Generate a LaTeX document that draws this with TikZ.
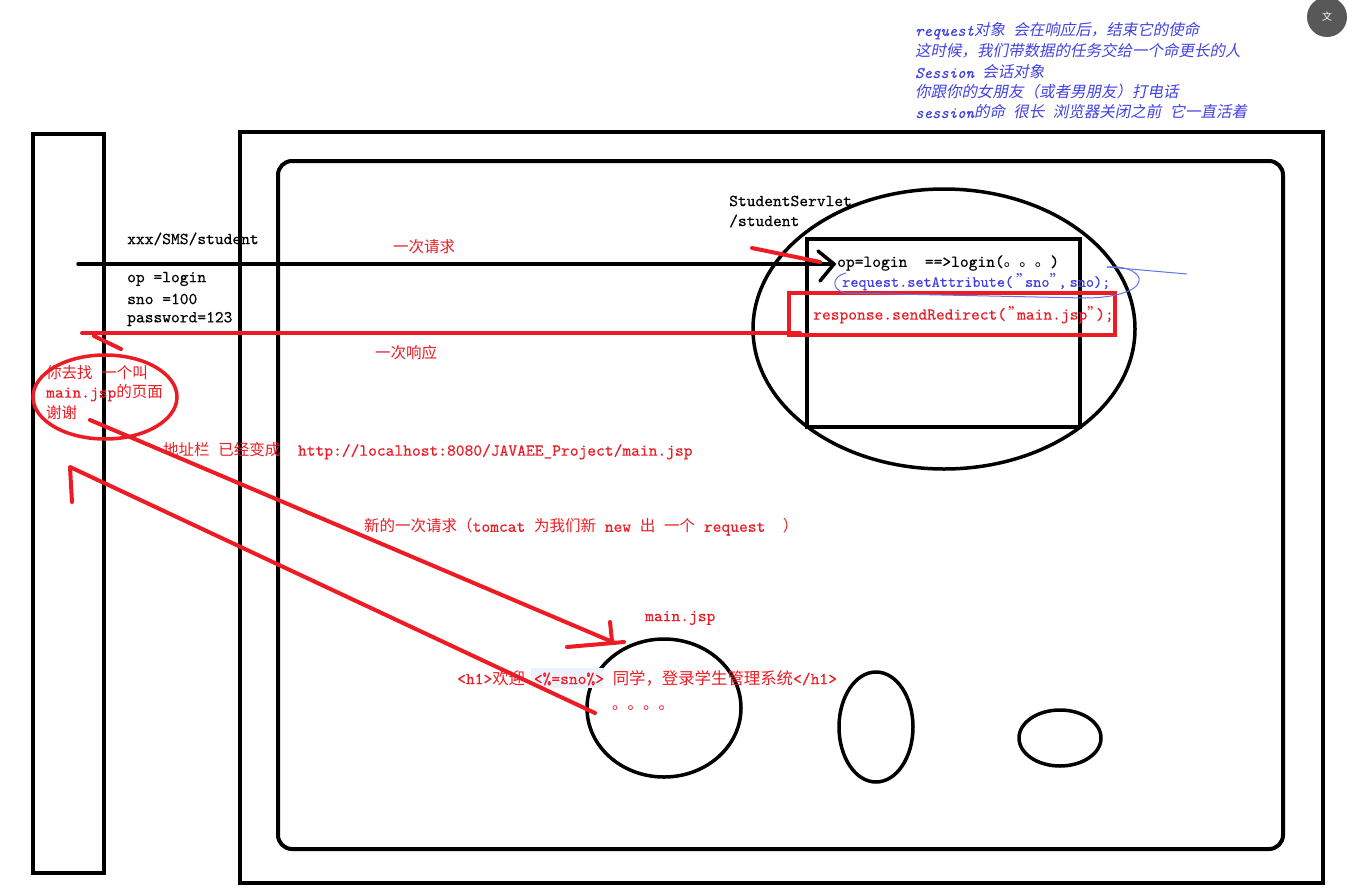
\documentclass[tikz,border=0pt]{standalone}
\usepackage{fontspec}
\setmonofont[FakeBold=0.4, ItalicFont=lmmono10-italic.otf, ItalicFeatures={FakeBold=0.4}]{lmmono10-regular.otf}
\newfontfamily\cjkfont{Noto Sans CJK SC}
\newfontfamily\cjkitfont[FakeSlant=0.2]{Noto Sans CJK SC}
\definecolor{pred}{RGB}{237,28,36}
\definecolor{pblue}{RGB}{66,66,226}
\definecolor{lblue}{RGB}{96,116,232}
\definecolor{hlblue}{RGB}{236,242,251}
\definecolor{icongray}{RGB}{88,88,88}
\newcommand\zhs[1]{{\fontsize{15.5}{19}\selectfont\cjkfont #1}}
\newcommand\zhb[1]{{\fontsize{16.4}{19}\selectfont\cjkfont #1}}
\newcommand\zhi[1]{{\fontsize{15.5}{19}\selectfont\cjkitfont #1}}
\newcommand\cq{\makebox[9pt][l]{\zhs{”}}}
\tikzset{
  txt/.style={anchor=west, inner sep=0pt, font=\fontsize{16.7}{19}\selectfont\ttfamily},
  blk/.style={txt, text=black},
  rtxt/.style={txt, text=pred},
  btxt/.style={txt, text=pblue, font=\fontsize{16}{19}\selectfont\ttfamily\itshape},
  bup/.style={txt, text=pblue, font=\fontsize{15.5}{19}\selectfont\ttfamily},
  frame/.style={draw=black, line width=4pt},
  redline/.style={draw=pred, line width=4pt, line cap=round, line join=round},
  blkline/.style={draw=black, line width=3.5pt, line cap=round, line join=round},
}
\begin{document}
\begin{tikzpicture}[x=1pt,y=-1pt]
\useasboundingbox (0,0) rectangle (1347,892);
\fill[white] (0,0) rectangle (1347,892);

% frames
\draw[frame] (33,134) rectangle (104,873);
\draw[frame] (240,132) rectangle (1323,883);
\draw[frame, rounded corners=14pt] (278,161) rectangle (1283,849);

% servlet
\coordinate (servC) at (944,329);
\draw[line width=3.5pt] (servC) ellipse [x radius=191pt, y radius=140pt];
\draw[frame] (807,239) rectangle (1080,427);
\draw[draw=pred, line width=4pt] (789,293) rectangle (1115,335);

% jsp ellipses
\coordinate (jspC) at (664,708);
\coordinate (ellB) at (876,727);
\coordinate (ellC) at (1060,738);
\draw[line width=3.5pt] (jspC) ellipse [x radius=77pt, y radius=69pt];
\draw[line width=3.5pt] (ellB) ellipse [x radius=37pt, y radius=55pt];
\draw[line width=3.5pt] (ellC) ellipse [x radius=41pt, y radius=28pt];

% red ellipse (left)
\coordinate (askC) at (105,397);
\draw[draw=pred, line width=3.5pt] (askC) ellipse [x radius=72pt, y radius=42pt];

% highlight behind <%=sno%>
\fill[hlblue] (531,668) rectangle (603,688);

% top-right icon
\node[circle, fill=icongray, minimum size=40pt, inner sep=0pt] (icon) at (1327,17) {};
\node[text=white, inner sep=0pt, font=\fontsize{10}{12}\selectfont\cjkfont] (iconTxt) at (1327,17) {文};

% ---- texts ----
\node[btxt] (t1) at (915,31) {request\zhi{对象}\ \zhi{会在响应后，结束它的使命}};
\node[btxt] (t2) at (915,51) {\zhi{这时候，我们带数据的任务交给一个命更长的人}};
\node[btxt] (t3) at (915,72) {Session\ \zhi{会话对象}};
\node[btxt] (t4) at (915,92) {\zhi{你跟你的女朋友（或者男朋友）打电话}};
\node[btxt] (t5) at (915,112) {session\zhi{的命}\ \zhi{很长}\ \zhi{浏览器关闭之前}\ \zhi{它一直活着}};

\node[blk] (url) at (127,239) {xxx/SMS/student};
\node[blk] (p1) at (127,279) {op =login};
\node[blk] (p2) at (127,299) {sno =100};
\node[blk] (p3) at (127,319) {password=123};
\node[blk] (sname) at (729,201) {StudentServlet};
\node[blk] (spath) at (729,221) {/student};
\node[blk] (oplogin) at (837,263) {op=login\ \ ==>login(\zhs{。。。})};
\node[bup] (setattr) at (842,282) {request.setAttribute(\hspace{3pt}\cq sno\cq,\hspace{3pt}sno);};
\node[rtxt] (redir) at (813,315) {response.sendRedirect(\hspace{2pt}\cq main.jsp\cq);};

\node[rtxt] (req1) at (393,247) {\zhs{一次请求}};
\node[rtxt] (resp1) at (375,353) {\zhs{一次响应}};
\node[rtxt] (ask1) at (46,373) {\zhs{你去找}\ \zhs{一个叫}};
\node[rtxt] (ask2) at (46,393) {main.jsp\zhs{的页面}};
\node[rtxt] (ask3) at (46,413) {\zhs{谢谢}};
\node[rtxt] (addr) at (163,451) {\zhs{地址栏}\ \zhs{已经变成}\ \ http://localhost:8080/JAVAEE\_Project/main.jsp};
\node[rtxt] (newreq) at (364,527) {\zhs{新的一次请求（}tomcat\ \zhs{为我们新}\ new\ \zhs{出}\ \zhs{一个}\ request\ \ \zhs{）}};
\node[rtxt] (jspname) at (645,618) {main.jsp};
\node[rtxt] (h1) at (457,678) {<h1>\zhb{欢迎}\ <\%=sno\%>\ \zhb{同学，登录学生管理系统}</h1>};
\node[rtxt] (dots) at (612,708) {\zhs{。。。。}};

% ---- connectors ----
% request arrow
\coordinate (reqS) at (78,264);
\coordinate (reqE) at (834,264);
\coordinate (reqHa) at (818,251);
\coordinate (reqHb) at (820,281);
\draw[blkline] (reqS) -- (reqE);
\draw[blkline] (reqHa) -- (reqE) -- (reqHb);
% red mark at servlet
\coordinate (markS) at (752,248);
\coordinate (markE) at (820,262);
\draw[redline] (markS) -- (markE);
% response arrow
\coordinate (respS) at (800,333);
\coordinate (respE) at (82,333);
\coordinate (respHa) at (94,336);
\coordinate (respHb) at (121,349);
\draw[redline] (respS) -- (respE);
\draw[redline] (respHa) -- (respHb);
% redirect arrow
\coordinate (redS) at (90,420);
\coordinate (redE) at (615,643);
\coordinate (redHa) at (610,622);
\coordinate (redHb) at (612,641);
\coordinate (redHc) at (567,647);
\coordinate (redHd) at (624,642);
\draw[redline] (redS) -- (redE);
\draw[redline] (redHa) -- (redHb);
\draw[redline] (redHc) -- (redHd);
% return arrow
\coordinate (retS) at (595,713);
\coordinate (retM) at (70,467);
\coordinate (retE) at (72,502);
\draw[redline] (retS) -- (retM) -- (retE);

% blue freehand outline
\coordinate (blA) at (846,273);
\coordinate (blB) at (1107,267);
\coordinate (blC) at (1187,274);
\draw[draw=lblue, line width=1pt] (blA) .. controls (832,276) and (830,290) .. (846,293)
  -- (1085,298) .. controls (1120,298) and (1145,288) .. (1138,276)
  .. controls (1132,268) and (1118,266) .. (blB);
\draw[draw=lblue, line width=1pt] (blB) -- (blC);
\end{tikzpicture}
\end{document}
